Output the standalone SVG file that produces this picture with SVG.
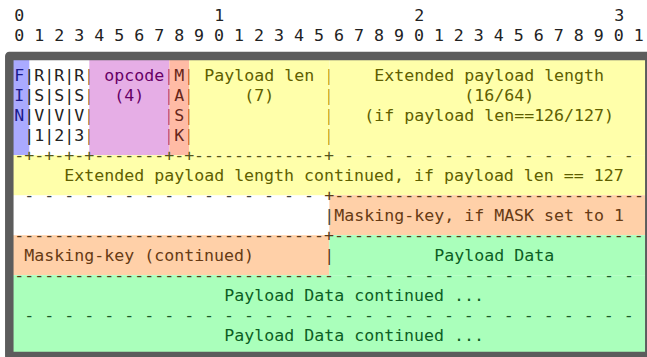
<svg xmlns="http://www.w3.org/2000/svg" width="647" height="357" viewBox="0 0 647 357">
<style>
text{font-family:"DejaVu Sans Mono","Liberation Mono",monospace;font-size:16.6px}
.k{fill:#222}
.tb{fill:#1a1a8c}
.tp{fill:#660066}
.ts{fill:#66261a}
.ty{fill:#5e5e00}
.to{fill:#663a14}
.tg{fill:#0d5e24}
.sy{fill:#55551a}
.sk{fill:#444}
.so{fill:#5a3a1a}
.sg{fill:#1a5a2a}
</style>
<rect x="0" y="0" width="647" height="357" fill="#fff"/>
<g id="bit-ruler">
<text class="k" x="14.3" y="20.5">0</text>
<text class="k" x="214.3" y="20.5">1</text>
<text class="k" x="414.3" y="20.5">2</text>
<text class="k" x="614.3" y="20.5">3</text>
<text class="k" x="14.3" y="40.5">0 1 2 3 4 5 6 7 8 9 0 1 2 3 4 5 6 7 8 9 0 1 2 3 4 5 6 7 8 9 0 1</text>
</g>
<g id="fin">
<rect x="9.3" y="55.2" width="20" height="100" fill="#aaaaff"/>
<text class="tb" x="14.3" y="80.5">F</text>
<text class="tb" x="14.3" y="100.5">I</text>
<text class="tb" x="14.3" y="120.5">N</text>
</g>
<g id="rsv">
<text class="k" x="24.3" y="80.5">|R|R|R|</text>
<text class="k" x="24.3" y="100.5">|S|S|S|</text>
<text class="k" x="24.3" y="120.5">|V|V|V|</text>
<text class="k" x="24.3" y="140.5">|1|2|3|</text>
</g>
<g id="opcode">
<rect x="89.3" y="55.2" width="80" height="100" fill="#e6aee6"/>
<text class="tp" x="104.3" y="80.5">opcode|</text>
<text class="tp" x="114.3" y="100.5">(4)</text>
<text class="tp" x="164.3" y="100.5">|</text>
<text class="tp" x="164.3" y="120.5">|</text>
<text class="tp" x="164.3" y="140.5">|</text>
</g>
<g id="mask">
<rect x="169.3" y="55.2" width="20" height="100" fill="#ffbba5"/>
<text class="ts" x="174.3" y="80.5">M|</text>
<text class="ts" x="174.3" y="100.5">A|</text>
<text class="ts" x="174.3" y="120.5">S|</text>
<text class="ts" x="174.3" y="140.5">K|</text>
</g>
<g id="payload-len">
<rect x="189.3" y="55.2" width="140" height="100" fill="#ffffaa"/>
<text class="ty" x="204.3" y="80.5">Payload len</text>
<text class="ty" x="244.3" y="100.5">(7)</text>
<text class="ty" x="324.3" y="80.5">|</text>
<text class="ty" x="324.3" y="100.5">|</text>
<text class="ty" x="324.3" y="120.5">|</text>
<text class="ty" x="324.3" y="140.5">|</text>
</g>
<g id="extended-payload-length">
<rect x="329.3" y="55.2" width="320" height="100" fill="#ffffaa"/>
<text class="ty" x="374.3" y="80.5">Extended payload length</text>
<text class="ty" x="464.3" y="100.5">(16/64)</text>
<text class="ty" x="364.3" y="120.5">(if payload len==126/127)</text>
</g>
<g id="extended-payload-continued">
<rect x="9.3" y="155.2" width="640" height="40" fill="#ffffaa"/>
<text class="ty" x="64.3" y="180.5">Extended payload length continued, if payload len == 127</text>
</g>
<g id="masking-key">
<rect x="329.3" y="195.2" width="320" height="40" fill="#ffd0a8"/>
<text class="to" x="334.3" y="220.5">Masking-key, if MASK set to 1</text>
</g>
<g id="masking-key-continued">
<rect x="9.3" y="235.2" width="320" height="40" fill="#ffd0a8"/>
<text class="to" x="24.3" y="260.5">Masking-key (continued)</text>
</g>
<g id="payload-data">
<rect x="329.3" y="235.2" width="320" height="40" fill="#aaffbb"/>
<rect x="9.3" y="275.2" width="640" height="80" fill="#aaffbb"/>
<text class="tg" x="434.3" y="260.5">Payload Data</text>
<text class="tg" x="224.3" y="300.5">Payload Data continued ...</text>
<text class="tg" x="224.3" y="340.5">Payload Data continued ...</text>
</g>
<g id="connectors">
<text class="sy" x="14.3" y="160.5">-+-+-+-+-------+-+-------------+ - - - - - - - - - - - - - - -</text>
<text class="sk" x="24.3" y="200.5">- - - - - - - - - - - - - - -</text>
<text class="so" x="324.3" y="200.5">+-------------------------------</text>
<text class="sk" x="324.3" y="220.5">|</text>
<text class="so" x="14.3" y="240.5">-------------------------------+-------------------------------</text>
<text class="so" x="324.3" y="260.5">|</text>
<text class="so" x="14.3" y="280.5">--------------------------------</text>
<text class="sg" x="344.3" y="280.5">- - - - - - - - - - - - - - -</text>
<text class="sg" x="24.3" y="320.5">- - - - - - - - - - - - - - - - - - - - - - - - - - - - - - -</text>
</g>
<g id="frame">
<rect x="9.3" y="56" width="640" height="300" fill="none" stroke="#5c5c5c" stroke-width="8.5" stroke-linejoin="round"/>
</g>
</svg>
